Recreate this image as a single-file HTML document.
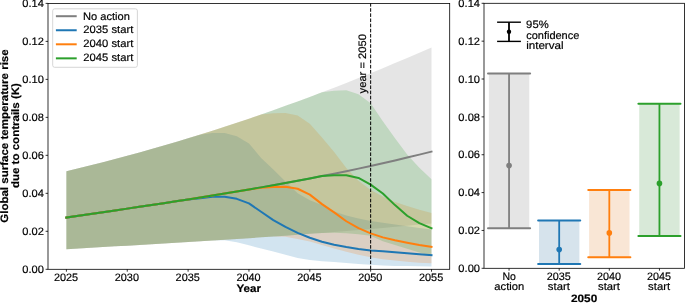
<!DOCTYPE html>
<html><head><meta charset="utf-8"><style>
html,body{margin:0;padding:0;background:#fff;overflow:hidden}
svg{display:block;will-change:transform}
text{font-family:"Liberation Sans", sans-serif;stroke:#000;stroke-width:0.18px}
</style></head><body>
<svg width="685" height="303" viewBox="0 0 685 303">
<rect x="0" y="0" width="685" height="303" fill="#fff"/>
<g>
<path d="M66.40,171.29 L78.57,168.36 L90.74,165.35 L102.91,162.25 L115.08,159.07 L127.25,155.80 L139.42,152.46 L151.59,149.03 L163.76,145.52 L175.93,141.93 L188.10,138.25 L200.27,134.49 L212.44,130.65 L224.61,126.73 L236.78,122.72 L248.95,118.63 L261.12,114.46 L273.29,110.21 L285.46,105.87 L297.63,101.45 L309.80,96.95 L321.97,92.36 L334.14,87.70 L346.31,82.95 L358.48,78.12 L370.65,73.20 L382.82,68.20 L394.99,63.12 L407.16,57.96 L419.33,52.72 L431.50,47.39 L431.50,223.39 L419.33,224.58 L407.16,225.73 L394.99,226.85 L382.82,227.94 L370.65,229.00 L358.48,230.03 L346.31,231.03 L334.14,232.00 L321.97,232.95 L309.80,233.87 L297.63,234.77 L285.46,235.65 L273.29,236.51 L261.12,237.35 L248.95,238.16 L236.78,238.97 L224.61,239.75 L212.44,240.53 L200.27,241.29 L188.10,242.03 L175.93,242.77 L163.76,243.50 L151.59,244.22 L139.42,244.93 L127.25,245.64 L115.08,246.34 L102.91,247.04 L90.74,247.73 L78.57,248.43 L66.40,249.13Z" fill="#7f7f7f" fill-opacity="0.2"/>
<path d="M66.40,171.29 L78.57,168.36 L90.74,165.35 L102.91,162.25 L115.08,159.07 L127.25,155.80 L139.42,152.46 L151.59,149.03 L163.76,145.52 L175.93,141.93 L188.10,138.25 L200.27,134.64 L212.44,133.12 L224.61,133.12 L236.78,136.16 L248.95,143.38 L261.12,158.00 L273.29,169.59 L285.46,181.55 L297.63,193.33 L309.80,200.17 L321.97,205.10 L334.14,211.56 L346.31,215.55 L358.48,218.40 L370.65,221.06 L382.82,222.77 L394.99,224.48 L407.16,226.19 L419.33,227.90 L431.50,229.42 L431.50,266.45 L419.33,266.26 L407.16,266.07 L394.99,265.88 L382.82,265.50 L370.65,264.74 L358.48,263.98 L346.31,263.03 L334.14,261.89 L321.97,261.13 L309.80,259.99 L297.63,257.90 L285.46,254.87 L273.29,251.45 L261.12,248.41 L248.95,245.37 L236.78,242.33 L224.61,240.24 L212.44,240.53 L200.27,241.29 L188.10,242.03 L175.93,242.77 L163.76,243.50 L151.59,244.22 L139.42,244.93 L127.25,245.64 L115.08,246.34 L102.91,247.04 L90.74,247.73 L78.57,248.43 L66.40,249.13Z" fill="#1f77b4" fill-opacity="0.2"/>
<path d="M66.40,171.29 L78.57,168.36 L90.74,165.35 L102.91,162.25 L115.08,159.07 L127.25,155.80 L139.42,152.46 L151.59,149.03 L163.76,145.52 L175.93,141.93 L188.10,138.25 L200.27,134.49 L212.44,130.65 L224.61,126.73 L236.78,122.72 L248.95,118.63 L261.12,114.46 L273.29,113.37 L285.46,112.99 L297.63,115.46 L309.80,123.81 L321.97,137.49 L334.14,151.92 L346.31,167.88 L358.48,180.79 L370.65,189.91 L382.82,196.56 L394.99,201.88 L407.16,206.05 L419.33,209.66 L431.50,212.89 L431.50,263.22 L419.33,262.65 L407.16,261.70 L394.99,260.56 L382.82,259.23 L370.65,257.33 L358.48,254.87 L346.31,251.83 L334.14,248.41 L321.97,244.99 L309.80,241.57 L297.63,238.91 L285.46,236.63 L273.29,236.51 L261.12,237.35 L248.95,238.16 L236.78,238.97 L224.61,239.75 L212.44,240.53 L200.27,241.29 L188.10,242.03 L175.93,242.77 L163.76,243.50 L151.59,244.22 L139.42,244.93 L127.25,245.64 L115.08,246.34 L102.91,247.04 L90.74,247.73 L78.57,248.43 L66.40,249.13Z" fill="#ff7f0e" fill-opacity="0.2"/>
<path d="M66.40,171.29 L78.57,168.36 L90.74,165.35 L102.91,162.25 L115.08,159.07 L127.25,155.80 L139.42,152.46 L151.59,149.03 L163.76,145.52 L175.93,141.93 L188.10,138.25 L200.27,134.49 L212.44,130.65 L224.61,126.73 L236.78,122.72 L248.95,118.63 L261.12,114.46 L273.29,110.21 L285.46,105.87 L297.63,101.45 L309.80,96.95 L321.97,92.36 L334.14,90.77 L346.31,90.20 L358.48,94.19 L370.65,103.30 L382.82,121.16 L394.99,138.25 L407.16,154.39 L419.33,167.69 L431.50,179.27 L431.50,256.00 L419.33,252.59 L407.16,248.79 L394.99,244.99 L382.82,241.19 L370.65,235.68 L358.48,234.35 L346.31,233.21 L334.14,232.83 L321.97,232.95 L309.80,233.87 L297.63,234.77 L285.46,235.65 L273.29,236.51 L261.12,237.35 L248.95,238.16 L236.78,238.97 L224.61,239.75 L212.44,240.53 L200.27,241.29 L188.10,242.03 L175.93,242.77 L163.76,243.50 L151.59,244.22 L139.42,244.93 L127.25,245.64 L115.08,246.34 L102.91,247.04 L90.74,247.73 L78.57,248.43 L66.40,249.13Z" fill="#2ca02c" fill-opacity="0.2"/>
<path d="M66.40,217.58 L78.57,215.79 L90.74,214.00 L102.91,212.22 L115.08,210.42 L127.25,208.62 L139.42,206.81 L151.59,204.98 L163.76,203.14 L175.93,201.27 L188.10,199.39 L200.27,197.47 L212.44,195.52 L224.61,193.54 L236.78,191.52 L248.95,189.47 L261.12,187.37 L273.29,185.22 L285.46,183.02 L297.63,180.77 L309.80,178.46 L321.97,176.10 L334.14,173.67 L346.31,171.17 L358.48,168.61 L370.65,165.97 L382.82,163.26 L394.99,160.47 L407.16,157.59 L419.33,154.63 L431.50,151.59" fill="none" stroke="#7f7f7f" stroke-width="2.0" stroke-linejoin="round" stroke-linecap="square"/>
<path d="M66.40,217.58 L78.57,215.79 L90.74,214.00 L102.91,212.22 L115.08,210.42 L127.25,208.62 L139.42,206.81 L151.59,204.98 L163.76,203.14 L175.93,201.27 L188.10,199.39 L200.27,198.27 L212.44,196.75 L224.61,196.75 L236.78,198.84 L248.95,203.39 L261.12,211.75 L273.29,220.11 L285.46,226.95 L297.63,232.83 L309.80,237.77 L321.97,241.76 L334.14,244.80 L346.31,247.08 L358.48,248.98 L370.65,250.50 L382.82,251.26 L394.99,252.21 L407.16,253.16 L419.33,254.30 L431.50,255.25" fill="none" stroke="#1f77b4" stroke-width="2.0" stroke-linejoin="round" stroke-linecap="square"/>
<path d="M66.40,217.58 L78.57,215.79 L90.74,214.00 L102.91,212.22 L115.08,210.42 L127.25,208.62 L139.42,206.81 L151.59,204.98 L163.76,203.14 L175.93,201.27 L188.10,199.39 L200.27,197.47 L212.44,195.52 L224.61,193.54 L236.78,191.52 L248.95,189.47 L261.12,187.82 L273.29,187.06 L285.46,186.68 L297.63,188.77 L309.80,194.66 L321.97,204.15 L334.14,212.32 L346.31,221.25 L358.48,228.09 L370.65,233.40 L382.82,237.39 L394.99,240.24 L407.16,242.71 L419.33,244.99 L431.50,246.89" fill="none" stroke="#ff7f0e" stroke-width="2.0" stroke-linejoin="round" stroke-linecap="square"/>
<path d="M66.40,217.58 L78.57,215.79 L90.74,214.00 L102.91,212.22 L115.08,210.42 L127.25,208.62 L139.42,206.81 L151.59,204.98 L163.76,203.14 L175.93,201.27 L188.10,199.39 L200.27,197.47 L212.44,195.52 L224.61,193.54 L236.78,191.52 L248.95,189.47 L261.12,187.37 L273.29,185.22 L285.46,183.02 L297.63,180.77 L309.80,178.46 L321.97,176.10 L334.14,175.29 L346.31,175.29 L358.48,177.94 L370.65,184.59 L382.82,193.52 L394.99,205.10 L407.16,215.74 L419.33,223.15 L431.50,228.28" fill="none" stroke="#2ca02c" stroke-width="2.0" stroke-linejoin="round" stroke-linecap="square"/>
</g>
<line x1="370.65" y1="269.3" x2="370.65" y2="3.4" stroke="#000" stroke-width="1" stroke-dasharray="3.6 1.55"/>
<rect x="48.0" y="3.4" width="401.70" height="265.90" fill="none" stroke="#000" stroke-width="0.8"/>
<line x1="45.60" y1="269.30" x2="48.0" y2="269.30" stroke="#000" stroke-width="0.8"/>
<text x="43.91" y="273.27" font-size="10.8" text-anchor="end" text-rendering="geometricPrecision" textLength="21.60" lengthAdjust="spacingAndGlyphs" fill="#000" >0.00</text>
<line x1="45.60" y1="231.31" x2="48.0" y2="231.31" stroke="#000" stroke-width="0.8"/>
<text x="43.91" y="235.28" font-size="10.8" text-anchor="end" text-rendering="geometricPrecision" textLength="21.60" lengthAdjust="spacingAndGlyphs" fill="#000" >0.02</text>
<line x1="45.60" y1="193.33" x2="48.0" y2="193.33" stroke="#000" stroke-width="0.8"/>
<text x="43.91" y="197.30" font-size="10.8" text-anchor="end" text-rendering="geometricPrecision" textLength="21.60" lengthAdjust="spacingAndGlyphs" fill="#000" >0.04</text>
<line x1="45.60" y1="155.34" x2="48.0" y2="155.34" stroke="#000" stroke-width="0.8"/>
<text x="43.91" y="159.31" font-size="10.8" text-anchor="end" text-rendering="geometricPrecision" textLength="21.60" lengthAdjust="spacingAndGlyphs" fill="#000" >0.06</text>
<line x1="45.60" y1="117.36" x2="48.0" y2="117.36" stroke="#000" stroke-width="0.8"/>
<text x="43.91" y="121.33" font-size="10.8" text-anchor="end" text-rendering="geometricPrecision" textLength="21.60" lengthAdjust="spacingAndGlyphs" fill="#000" >0.08</text>
<line x1="45.60" y1="79.37" x2="48.0" y2="79.37" stroke="#000" stroke-width="0.8"/>
<text x="43.91" y="83.34" font-size="10.8" text-anchor="end" text-rendering="geometricPrecision" textLength="21.60" lengthAdjust="spacingAndGlyphs" fill="#000" >0.10</text>
<line x1="45.60" y1="41.39" x2="48.0" y2="41.39" stroke="#000" stroke-width="0.8"/>
<text x="43.91" y="45.36" font-size="10.8" text-anchor="end" text-rendering="geometricPrecision" textLength="21.60" lengthAdjust="spacingAndGlyphs" fill="#000" >0.12</text>
<line x1="45.60" y1="3.40" x2="48.0" y2="3.40" stroke="#000" stroke-width="0.8"/>
<text x="43.91" y="7.37" font-size="10.8" text-anchor="end" text-rendering="geometricPrecision" textLength="21.60" lengthAdjust="spacingAndGlyphs" fill="#000" >0.14</text>
<line x1="66.40" y1="269.3" x2="66.40" y2="271.70" stroke="#000" stroke-width="0.8"/>
<text x="66.02" y="280.59" font-size="10.8" text-anchor="middle" text-rendering="geometricPrecision" textLength="24.21" lengthAdjust="spacingAndGlyphs" fill="#000" >2025</text>
<line x1="127.25" y1="269.3" x2="127.25" y2="271.70" stroke="#000" stroke-width="0.8"/>
<text x="126.87" y="280.59" font-size="10.8" text-anchor="middle" text-rendering="geometricPrecision" textLength="24.21" lengthAdjust="spacingAndGlyphs" fill="#000" >2030</text>
<line x1="188.10" y1="269.3" x2="188.10" y2="271.70" stroke="#000" stroke-width="0.8"/>
<text x="187.72" y="280.59" font-size="10.8" text-anchor="middle" text-rendering="geometricPrecision" textLength="24.21" lengthAdjust="spacingAndGlyphs" fill="#000" >2035</text>
<line x1="248.95" y1="269.3" x2="248.95" y2="271.70" stroke="#000" stroke-width="0.8"/>
<text x="248.57" y="280.59" font-size="10.8" text-anchor="middle" text-rendering="geometricPrecision" textLength="24.21" lengthAdjust="spacingAndGlyphs" fill="#000" >2040</text>
<line x1="309.80" y1="269.3" x2="309.80" y2="271.70" stroke="#000" stroke-width="0.8"/>
<text x="309.42" y="280.59" font-size="10.8" text-anchor="middle" text-rendering="geometricPrecision" textLength="24.21" lengthAdjust="spacingAndGlyphs" fill="#000" >2045</text>
<line x1="370.65" y1="269.3" x2="370.65" y2="271.70" stroke="#000" stroke-width="0.8"/>
<text x="370.27" y="280.59" font-size="10.8" text-anchor="middle" text-rendering="geometricPrecision" textLength="24.21" lengthAdjust="spacingAndGlyphs" fill="#000" >2050</text>
<line x1="431.50" y1="269.3" x2="431.50" y2="271.70" stroke="#000" stroke-width="0.8"/>
<text x="431.12" y="280.59" font-size="10.8" text-anchor="middle" text-rendering="geometricPrecision" textLength="24.21" lengthAdjust="spacingAndGlyphs" fill="#000" >2055</text>
<text x="248.67" y="292.47" font-size="10.8" text-anchor="middle" text-rendering="geometricPrecision" font-weight="bold" textLength="24.52" lengthAdjust="spacingAndGlyphs" fill="#000" >Year</text>
<text x="8.36" y="136.06" font-size="10.8" text-anchor="middle" text-rendering="geometricPrecision" font-weight="bold" textLength="173.46" lengthAdjust="spacingAndGlyphs" transform="rotate(-90 8.36 136.06)" fill="#000" >Global surface temperature rise</text>
<text x="19.21" y="135.58" font-size="10.8" text-anchor="middle" text-rendering="geometricPrecision" font-weight="bold" textLength="105.03" lengthAdjust="spacingAndGlyphs" transform="rotate(-90 19.21 135.58)" fill="#000" >due to contrails (K)</text>
<text x="365.91" y="93.44" font-size="10.8" text-anchor="start" text-rendering="geometricPrecision" textLength="59.45" lengthAdjust="spacingAndGlyphs" transform="rotate(-90 365.91 93.44)" fill="#000" >year = 2050</text>
<rect x="52.7" y="8.8" width="84.70" height="58.50" rx="2" fill="#fff" fill-opacity="0.8" stroke="#ccc" stroke-width="0.8"/>
<line x1="55.9" y1="16.20" x2="76.7" y2="16.20" stroke="#7f7f7f" stroke-width="2.0"/>
<text x="83.06" y="19.72" font-size="10.8" text-anchor="start" text-rendering="geometricPrecision" textLength="46.83" lengthAdjust="spacingAndGlyphs" fill="#000" >No action</text>
<line x1="55.9" y1="30.25" x2="76.7" y2="30.25" stroke="#1f77b4" stroke-width="2.0"/>
<text x="83.37" y="33.14" font-size="10.8" text-anchor="start" text-rendering="geometricPrecision" textLength="49.91" lengthAdjust="spacingAndGlyphs" fill="#000" >2035 start</text>
<line x1="55.9" y1="44.30" x2="76.7" y2="44.30" stroke="#ff7f0e" stroke-width="2.0"/>
<text x="83.37" y="47.19" font-size="10.8" text-anchor="start" text-rendering="geometricPrecision" textLength="49.91" lengthAdjust="spacingAndGlyphs" fill="#000" >2040 start</text>
<line x1="55.9" y1="58.35" x2="76.7" y2="58.35" stroke="#2ca02c" stroke-width="2.0"/>
<text x="83.37" y="61.24" font-size="10.8" text-anchor="start" text-rendering="geometricPrecision" textLength="49.91" lengthAdjust="spacingAndGlyphs" fill="#000" >2045 start</text>
<rect x="488.86" y="73.50" width="40.40" height="154.70" fill="#e5e5e5"/>
<line x1="509.06" y1="73.50" x2="509.06" y2="228.20" stroke="#7f7f7f" stroke-width="1.8"/>
<line x1="488.01" y1="73.50" x2="530.11" y2="73.50" stroke="#7f7f7f" stroke-width="2.0" stroke-linecap="round"/>
<line x1="488.01" y1="228.20" x2="530.11" y2="228.20" stroke="#7f7f7f" stroke-width="2.0" stroke-linecap="round"/>
<circle cx="509.06" cy="165.60" r="2.8" fill="#7f7f7f"/>
<rect x="538.99" y="220.50" width="40.40" height="43.40" fill="#d6e3ec"/>
<line x1="559.19" y1="220.50" x2="559.19" y2="263.90" stroke="#1f77b4" stroke-width="1.8"/>
<line x1="538.14" y1="220.50" x2="580.24" y2="220.50" stroke="#1f77b4" stroke-width="2.0" stroke-linecap="round"/>
<line x1="538.14" y1="263.90" x2="580.24" y2="263.90" stroke="#1f77b4" stroke-width="2.0" stroke-linecap="round"/>
<circle cx="559.19" cy="249.60" r="2.8" fill="#1f77b4"/>
<rect x="589.11" y="190.00" width="40.40" height="67.30" fill="#f9e6d5"/>
<line x1="609.31" y1="190.00" x2="609.31" y2="257.30" stroke="#ff7f0e" stroke-width="1.8"/>
<line x1="588.26" y1="190.00" x2="630.36" y2="190.00" stroke="#ff7f0e" stroke-width="2.0" stroke-linecap="round"/>
<line x1="588.26" y1="257.30" x2="630.36" y2="257.30" stroke="#ff7f0e" stroke-width="2.0" stroke-linecap="round"/>
<circle cx="609.31" cy="232.90" r="2.8" fill="#ff7f0e"/>
<rect x="639.24" y="103.70" width="40.40" height="132.40" fill="#d8e9d8"/>
<line x1="659.44" y1="103.70" x2="659.44" y2="236.10" stroke="#2ca02c" stroke-width="1.8"/>
<line x1="638.39" y1="103.70" x2="680.49" y2="103.70" stroke="#2ca02c" stroke-width="2.0" stroke-linecap="round"/>
<line x1="638.39" y1="236.10" x2="680.49" y2="236.10" stroke="#2ca02c" stroke-width="2.0" stroke-linecap="round"/>
<circle cx="659.44" cy="183.40" r="2.8" fill="#2ca02c"/>
<line x1="509.0" y1="22.2" x2="509.0" y2="41.4" stroke="#000" stroke-width="1.8"/>
<line x1="497.10" y1="22.2" x2="520.90" y2="22.2" stroke="#000" stroke-width="1.4"/>
<line x1="497.10" y1="41.4" x2="520.90" y2="41.4" stroke="#000" stroke-width="1.4"/>
<circle cx="509.0" cy="31.8" r="2.2" fill="#000"/>
<text x="526.13" y="28.15" font-size="10.8" text-anchor="start" text-rendering="geometricPrecision" textLength="22.54" lengthAdjust="spacingAndGlyphs" fill="#000" >95%</text>
<text x="526.17" y="38.55" font-size="10.8" text-anchor="start" text-rendering="geometricPrecision" textLength="53.20" lengthAdjust="spacingAndGlyphs" fill="#000" >confidence</text>
<text x="526.15" y="48.50" font-size="10.8" text-anchor="start" text-rendering="geometricPrecision" textLength="37.45" lengthAdjust="spacingAndGlyphs" fill="#000" >interval</text>
<rect x="484.0" y="3.3" width="200.50" height="265.00" fill="none" stroke="#000" stroke-width="0.8"/>
<line x1="481.60" y1="268.30" x2="484.0" y2="268.30" stroke="#000" stroke-width="0.8"/>
<text x="479.99" y="272.02" font-size="10.8" text-anchor="end" text-rendering="geometricPrecision" textLength="21.61" lengthAdjust="spacingAndGlyphs" fill="#000" >0.00</text>
<line x1="481.60" y1="230.44" x2="484.0" y2="230.44" stroke="#000" stroke-width="0.8"/>
<text x="479.99" y="234.16" font-size="10.8" text-anchor="end" text-rendering="geometricPrecision" textLength="21.61" lengthAdjust="spacingAndGlyphs" fill="#000" >0.02</text>
<line x1="481.60" y1="192.59" x2="484.0" y2="192.59" stroke="#000" stroke-width="0.8"/>
<text x="479.99" y="196.31" font-size="10.8" text-anchor="end" text-rendering="geometricPrecision" textLength="21.61" lengthAdjust="spacingAndGlyphs" fill="#000" >0.04</text>
<line x1="481.60" y1="154.73" x2="484.0" y2="154.73" stroke="#000" stroke-width="0.8"/>
<text x="479.99" y="158.45" font-size="10.8" text-anchor="end" text-rendering="geometricPrecision" textLength="21.61" lengthAdjust="spacingAndGlyphs" fill="#000" >0.06</text>
<line x1="481.60" y1="116.87" x2="484.0" y2="116.87" stroke="#000" stroke-width="0.8"/>
<text x="479.99" y="120.59" font-size="10.8" text-anchor="end" text-rendering="geometricPrecision" textLength="21.61" lengthAdjust="spacingAndGlyphs" fill="#000" >0.08</text>
<line x1="481.60" y1="79.01" x2="484.0" y2="79.01" stroke="#000" stroke-width="0.8"/>
<text x="479.99" y="82.74" font-size="10.8" text-anchor="end" text-rendering="geometricPrecision" textLength="21.61" lengthAdjust="spacingAndGlyphs" fill="#000" >0.10</text>
<line x1="481.60" y1="41.16" x2="484.0" y2="41.16" stroke="#000" stroke-width="0.8"/>
<text x="479.99" y="44.88" font-size="10.8" text-anchor="end" text-rendering="geometricPrecision" textLength="21.61" lengthAdjust="spacingAndGlyphs" fill="#000" >0.12</text>
<line x1="481.60" y1="3.30" x2="484.0" y2="3.30" stroke="#000" stroke-width="0.8"/>
<text x="479.99" y="7.02" font-size="10.8" text-anchor="end" text-rendering="geometricPrecision" textLength="21.61" lengthAdjust="spacingAndGlyphs" fill="#000" >0.14</text>
<line x1="509.06" y1="268.3" x2="509.06" y2="270.70" stroke="#000" stroke-width="0.8"/>
<text x="509.12" y="280.20" font-size="10.8" text-anchor="middle" text-rendering="geometricPrecision" textLength="13.44" lengthAdjust="spacingAndGlyphs" fill="#000" >No</text>
<text x="509.27" y="290.20" font-size="10.8" text-anchor="middle" text-rendering="geometricPrecision" textLength="29.91" lengthAdjust="spacingAndGlyphs" fill="#000" >action</text>
<line x1="559.19" y1="268.3" x2="559.19" y2="270.70" stroke="#000" stroke-width="0.8"/>
<text x="558.82" y="280.20" font-size="10.8" text-anchor="middle" text-rendering="geometricPrecision" textLength="24.05" lengthAdjust="spacingAndGlyphs" fill="#000" >2035</text>
<text x="558.86" y="290.20" font-size="10.8" text-anchor="middle" text-rendering="geometricPrecision" textLength="21.95" lengthAdjust="spacingAndGlyphs" fill="#000" >start</text>
<line x1="609.31" y1="268.3" x2="609.31" y2="270.70" stroke="#000" stroke-width="0.8"/>
<text x="608.94" y="280.20" font-size="10.8" text-anchor="middle" text-rendering="geometricPrecision" textLength="24.05" lengthAdjust="spacingAndGlyphs" fill="#000" >2040</text>
<text x="608.99" y="290.20" font-size="10.8" text-anchor="middle" text-rendering="geometricPrecision" textLength="21.95" lengthAdjust="spacingAndGlyphs" fill="#000" >start</text>
<line x1="659.44" y1="268.3" x2="659.44" y2="270.70" stroke="#000" stroke-width="0.8"/>
<text x="659.07" y="280.20" font-size="10.8" text-anchor="middle" text-rendering="geometricPrecision" textLength="24.05" lengthAdjust="spacingAndGlyphs" fill="#000" >2045</text>
<text x="659.11" y="290.20" font-size="10.8" text-anchor="middle" text-rendering="geometricPrecision" textLength="21.95" lengthAdjust="spacingAndGlyphs" fill="#000" >start</text>
<text x="584.10" y="302.40" font-size="10.8" text-anchor="middle" text-rendering="geometricPrecision" font-weight="bold" textLength="26.24" lengthAdjust="spacingAndGlyphs" fill="#000" >2050</text>
</svg>
</body></html>
